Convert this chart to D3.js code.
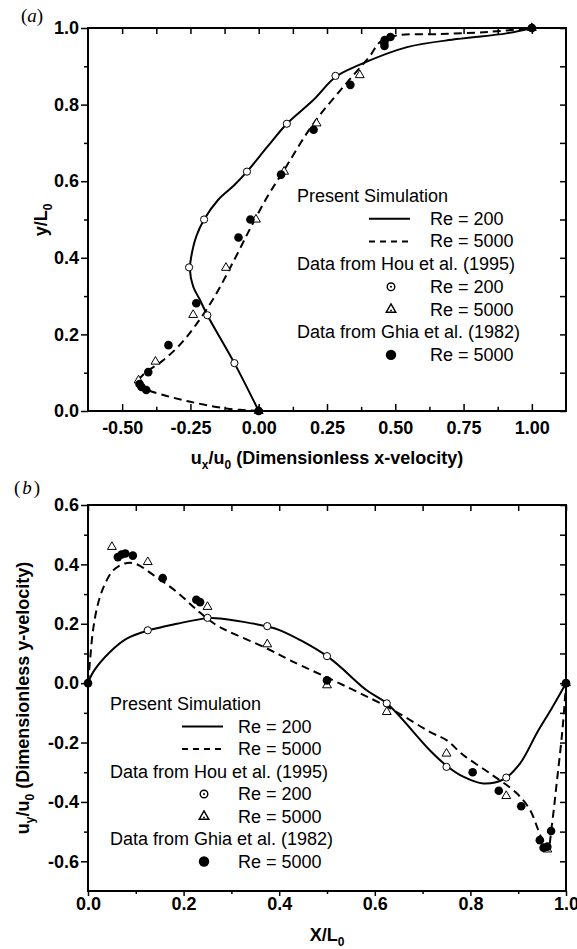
<!DOCTYPE html>
<html>
<head>
<meta charset="utf-8">
<script src="https://cdnjs.cloudflare.com/ajax/libs/d3/7.8.5/d3.min.js"></script>
<style>
  body { margin: 0; background: #fff; }
  svg { display: block; font-family: "Liberation Sans", Arial, sans-serif; }
  .axis text { font-size: 18px; font-weight: bold; fill: #000; font-family: "Liberation Sans", Arial, sans-serif; }
  .axis line { stroke: #000; stroke-width: 1.5; }
  .axis path { display: none; }
  .frame { fill: none; stroke: #000; stroke-width: 2; }
  .title { font-size: 18px; font-weight: bold; }
  .legend text { font-size: 18px; }
  .sim { fill: none; stroke: #000; stroke-width: 2; }
  .dashed { stroke-dasharray: 8,5; }
  .panelLabel { font-family: "Liberation Serif", "Times New Roman", serif; font-size: 19px; }
</style>
</head>
<body>
<div id="chart"></div>
<script>

// (a) x-velocity on the vertical centreline, pairs are [u/u0, y/L0]
var simA200 = [[0,0],[-0.089,0.125],[-0.188,0.25],[-0.215,0.29],[-0.24,0.325],[-0.252,0.37],[-0.247,0.403],
    [-0.229,0.455],[-0.2,0.5],[-0.149,0.551],[-0.089,0.59],[-0.043,0.625],[0.032,0.69],[0.103,0.75],
    [0.2,0.812],[0.281,0.872],[0.366,0.903],[0.543,0.95],[0.725,0.971],[0.907,0.986],[1,1]];
var simA5000 = [[0,0],[-0.113,0.006],[-0.25,0.024],[-0.356,0.043],[-0.41,0.056],[-0.445,0.072],[-0.42,0.097],
    [-0.356,0.129],[-0.295,0.168],[-0.235,0.22],[-0.162,0.298],[-0.09,0.394],[-0.028,0.481],[0.032,0.56],
    [0.085,0.62],[0.2,0.75],[0.32,0.855],[0.405,0.925],[0.445,0.964],[0.5,0.98],[0.664,0.984],[0.846,0.99],[1,1]];
var houA200 = [[0,0],[-0.089,0.125],[-0.188,0.25],[-0.255,0.375],[-0.2,0.5],[-0.043,0.625],[0.103,0.75],[0.281,0.875],[1,1]];
var houA5000 = [[0,0],[-0.44,0.08],[-0.378,0.129],[-0.24,0.251],[-0.12,0.374],[-0.01,0.5],[0.093,0.625],
    [0.212,0.751],[0.37,0.877],[1,1]];
var ghiaA5000 = [[0,0],[-0.41165,0.0547],[-0.42901,0.0625],[-0.43643,0.0703],[-0.40435,0.1016],[-0.3305,0.1719],
    [-0.22855,0.2813],[-0.07404,0.4531],[-0.03039,0.5],[0.08183,0.6172],[0.20087,0.7344],[0.33556,0.8516],
    [0.46036,0.9531],[0.45992,0.9609],[0.4612,0.9688],[0.48223,0.9766],[1,1]];

// (b) y-velocity on the horizontal centreline, pairs are [X/L0, uy/u0]
var simB200 = [[0,0],[0.011,0.038],[0.046,0.105],[0.081,0.15],[0.125,0.177],[0.186,0.2],[0.25,0.219],[0.276,0.218],
    [0.375,0.191],[0.402,0.178],[0.5,0.091],[0.583,-0.024],[0.625,-0.068],[0.715,-0.226],[0.75,-0.278],
    [0.785,-0.315],[0.827,-0.338],[0.869,-0.324],[0.904,-0.27],[0.94,-0.165],[0.97,-0.085],[1,0]];
var simB5000 = [[0,0],[0.004,0.072],[0.011,0.184],[0.022,0.274],[0.036,0.336],[0.053,0.38],[0.077,0.403],
    [0.098,0.403],[0.137,0.364],[0.186,0.307],[0.228,0.246],[0.269,0.195],[0.304,0.167],[0.374,0.117],
    [0.423,0.077],[0.541,-0.012],[0.639,-0.091],[0.715,-0.164],[0.75,-0.192],[0.785,-0.242],[0.841,-0.304],
    [0.897,-0.371],[0.925,-0.428],[0.942,-0.495],[0.956,-0.551],[0.962,-0.565],[0.97,-0.484],[0.981,-0.33],
    [0.993,-0.15],[1,0]];
var houB200 = [[0.125,0.178],[0.25,0.22],[0.375,0.192],[0.5,0.091],[0.625,-0.068],[0.75,-0.282],[0.875,-0.318],[1,0]];
var houB5000 = [[0.05,0.459],[0.125,0.408],[0.25,0.257],[0.375,0.131],[0.5,-0.007],[0.625,-0.097],[0.75,-0.237],
    [0.875,-0.38],[0.961,-0.56],[1,0]];
var ghiaB5000 = [[0,0],[0.0625,0.42447],[0.0703,0.43329],[0.0781,0.43648],[0.0938,0.42951],[0.1563,0.35368],
    [0.2266,0.28066],[0.2344,0.2728],[0.5,0.00945],[0.8047,-0.30018],[0.8594,-0.36214],[0.9063,-0.41442],
    [0.9453,-0.52876],[0.9531,-0.55408],[0.9609,-0.55069],[0.9688,-0.49774],[1,0]];

// tick values
var ticksAx = [-0.5,-0.25,0,0.25,0.5,0.75,1];
var minorAx = [-0.375,-0.125,0.125,0.375,0.625,0.875];
var ticksAy = [0,0.2,0.4,0.6,0.8,1];
var minorAy = [0.1,0.3,0.5,0.7,0.9];
var ticksBx = [0,0.2,0.4,0.6,0.8,1];
var minorBx = [0.1,0.3,0.5,0.7,0.9];
var ticksBy = [-0.6,-0.4,-0.2,0,0.2,0.4,0.6];
var minorBy = [-0.5,-0.3,-0.1,0.1,0.3,0.5];

var legendLabels = ["Present Simulation","Re = 200","Re = 5000","Data from Hou et al. (1995)",
    "Re = 200","Re = 5000","Data from Ghia et al. (1982)","Re = 5000"];
var legendKeys = ["head","solid","dash","head","circle","triangle","head","dot"];


var svg = d3.select("#chart")
    .append("svg")
    .attr("width", 577)
    .attr("height", 949);

svg.append("rect").attr("width", 577).attr("height", 949).attr("fill", "#fff");

function fmt(p) {
    var f = d3.format(p);
    return function(d) { return f(d).replace("\u2212", "-"); };
}

function Panel(cfg) {
    var chart = this;
    var top = cfg.yRange[1], bottom = cfg.yRange[0];

    chart.x = d3.scaleLinear().domain(cfg.xDomain).range([88, 566]);
    chart.y = d3.scaleLinear().domain(cfg.yDomain).range(cfg.yRange);
    chart.g = svg.append("g");

    var g = chart.g;

    // bottom + left with labels, top + right mirrored inward
    g.append("g").attr("class", "axis").attr("transform", "translate(0," + bottom + ")")
        .call(d3.axisBottom(chart.x).tickValues(cfg.xTicks).tickSize(cfg.bTick).tickSizeOuter(0)
            .tickPadding(cfg.bPad).tickFormat(fmt(cfg.xFmt)));
    g.append("g").attr("class", "axis").attr("transform", "translate(0," + bottom + ")")
        .call(d3.axisBottom(chart.x).tickValues(cfg.xMinor).tickSize(cfg.bTick * 0.6).tickSizeOuter(0).tickFormat(""));
    g.append("g").attr("class", "axis").attr("transform", "translate(88,0)")
        .call(d3.axisLeft(chart.y).tickValues(cfg.yTicks).tickSize(7).tickSizeOuter(0)
            .tickPadding(2).tickFormat(fmt(".1f")));
    g.append("g").attr("class", "axis").attr("transform", "translate(88,0)")
        .call(d3.axisLeft(chart.y).tickValues(cfg.yMinor).tickSize(4).tickSizeOuter(0).tickFormat(""));

    g.append("g").attr("class", "axis").attr("transform", "translate(0," + top + ")")
        .call(d3.axisTop(chart.x).tickValues(cfg.xTicks.concat(cfg.xMinor)).tickSize(-6).tickSizeOuter(0).tickFormat(""));
    g.append("g").attr("class", "axis").attr("transform", "translate(566,0)")
        .call(d3.axisRight(chart.y).tickValues(cfg.yTicks.concat(cfg.yMinor)).tickSize(-6).tickSizeOuter(0).tickFormat(""));

    g.append("rect")
        .attr("class", "frame")
        .attr("x", 88).attr("y", top)
        .attr("width", 566 - 88).attr("height", bottom - top);

    var line = d3.line()
        .x(function(d) { return chart.x(d[0]); })
        .y(function(d) { return chart.y(d[1]); })
        .curve(d3.curveCatmullRom.alpha(0.5));

    var plot = g.append("g");

    plot.append("path").datum(cfg.sim200).attr("class", "sim").attr("d", line);
    plot.append("path").datum(cfg.sim5000).attr("class", "sim dashed").attr("d", line);

    plot.selectAll(".hou200")
        .data(cfg.hou200).enter()
        .append("circle")
        .attr("class", "hou200")
        .attr("cx", function(d) { return chart.x(d[0]); })
        .attr("cy", function(d) { return chart.y(d[1]); })
        .attr("r", 3.6)
        .attr("fill", "#fff").attr("stroke", "#000").attr("stroke-width", 1);

    var tri = d3.symbol().type(d3.symbolTriangle).size(34);
    plot.selectAll(".hou5000")
        .data(cfg.hou5000).enter()
        .append("path")
        .attr("class", "hou5000")
        .attr("transform", function(d) { return "translate(" + chart.x(d[0]) + "," + chart.y(d[1]) + ")"; })
        .attr("d", tri)
        .attr("fill", "#fff").attr("stroke", "#000").attr("stroke-width", 1);

    plot.selectAll(".ghia")
        .data(cfg.ghia).enter()
        .append("circle")
        .attr("class", "ghia")
        .attr("cx", function(d) { return chart.x(d[0]); })
        .attr("cy", function(d) { return chart.y(d[1]); })
        .attr("r", 4.3)
        .attr("fill", "#000");
}

Panel.prototype.legend = function(x0, y0, step, textDx) {
    var chart = this;
    var lg = chart.g.append("g").attr("class", "legend");

    legendLabels.forEach(function(label, i) {
        var key = legendKeys[i];
        var by = y0 + i * step;
        var cy = by - 6;

        lg.append("text")
            .attr("x", key == "head" ? x0 : x0 + textDx)
            .attr("y", by)
            .text(label);

        if (key == "solid" || key == "dash") {
            lg.append("line")
                .attr("x1", x0 + 72).attr("x2", x0 + 113)
                .attr("y1", cy).attr("y2", cy)
                .attr("stroke", "#000").attr("stroke-width", 2)
                .attr("stroke-dasharray", key == "dash" ? "6,5" : null);
        } else if (key == "circle") {
            lg.append("circle").attr("cx", x0 + 94).attr("cy", cy).attr("r", 3.8)
                .attr("fill", "#fff").attr("stroke", "#000").attr("stroke-width", 1.4);
            lg.append("circle").attr("cx", x0 + 94).attr("cy", cy).attr("r", 1).attr("fill", "#000");
        } else if (key == "triangle") {
            lg.append("path")
                .attr("transform", "translate(" + (x0 + 94) + "," + cy + ")")
                .attr("d", d3.symbol().type(d3.symbolTriangle).size(40))
                .attr("fill", "#fff").attr("stroke", "#000").attr("stroke-width", 1.4);
            lg.append("circle").attr("cx", x0 + 94).attr("cy", cy + 1).attr("r", 0.9).attr("fill", "#000");
        } else if (key == "dot") {
            lg.append("circle").attr("cx", x0 + 94).attr("cy", cy).attr("r", 5.2).attr("fill", "#000");
        }
    });
};


var panelA = new Panel({
    xDomain: [-0.625, 1.125], yDomain: [0, 1], yRange: [411, 28],
    xTicks: ticksAx, xMinor: minorAx, yTicks: ticksAy, yMinor: minorAy,
    xFmt: ".2f", bTick: -7, bPad: 10.5,
    sim200: simA200, sim5000: simA5000, hou200: houA200, hou5000: houA5000, ghia: ghiaA5000
});
panelA.legend(297, 202, 22.7, 133);

var panelB = new Panel({
    xDomain: [0, 1], yDomain: [-0.7, 0.6], yRange: [891, 505],
    xTicks: ticksBx, xMinor: minorBx, yTicks: ticksBy, yMinor: minorBy,
    xFmt: ".1f", bTick: 5, bPad: 1,
    sim200: simB200, sim5000: simB5000, hou200: houB200, hou5000: houB5000, ghia: ghiaB5000
});
panelB.legend(110, 710, 22.5, 128);


// axis titles
var tA = svg.append("text").attr("class", "title")
    .attr("x", 327).attr("y", 464).style("text-anchor", "middle");
tA.append("tspan").text("u");
tA.append("tspan").attr("dy", 5).style("font-size", "12px").text("x");
tA.append("tspan").attr("dy", -5).text("/u");
tA.append("tspan").attr("dy", 5).style("font-size", "12px").text("0");
tA.append("tspan").attr("dy", -5).text(" (Dimensionless x-velocity)");

var yA = svg.append("text").attr("class", "title")
    .attr("transform", "translate(47,220) rotate(-90)").style("text-anchor", "middle");
yA.append("tspan").text("y/L");
yA.append("tspan").attr("dy", 5).style("font-size", "12px").text("0");

var tB = svg.append("text").attr("class", "title")
    .attr("x", 327).attr("y", 941).style("text-anchor", "middle");
tB.append("tspan").text("X/L");
tB.append("tspan").attr("dy", 5).style("font-size", "12px").text("0");

var yB = svg.append("text").attr("class", "title")
    .attr("transform", "translate(29,698) rotate(-90)").style("text-anchor", "middle");
yB.append("tspan").text("u");
yB.append("tspan").attr("dy", 5).style("font-size", "12px").text("y");
yB.append("tspan").attr("dy", -5).text("/u");
yB.append("tspan").attr("dy", 5).style("font-size", "12px").text("0");
yB.append("tspan").attr("dy", -5).text(" (Dimensionless y-velocity)");

// panel letters
var la = svg.append("text").attr("class", "panelLabel").attr("x", 21).attr("y", 22);
la.append("tspan").text("(");
la.append("tspan").style("font-style", "italic").text("a");
la.append("tspan").text(")");

var lb = svg.append("text").attr("class", "panelLabel").attr("x", 14).attr("y", 494);
lb.append("tspan").text("(");
lb.append("tspan").style("font-style", "italic").attr("dx", 2).text("b");
lb.append("tspan").attr("dx", 2).text(")");

</script>
</body>
</html>
